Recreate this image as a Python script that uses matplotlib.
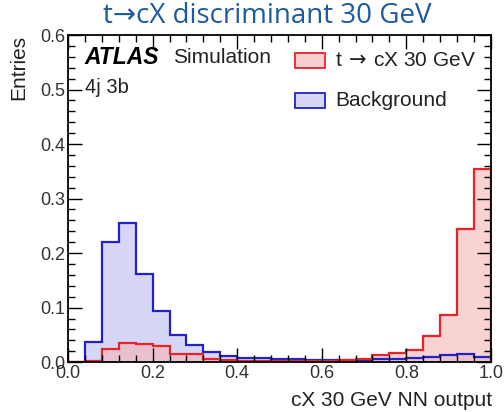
import matplotlib
matplotlib.use('Agg')
import matplotlib.pyplot as plt
from matplotlib.patches import Rectangle
from matplotlib.ticker import MultipleLocator
import numpy as np

# 25 bins of 0.04 on the NN output
bin_edges = np.linspace(0.0, 1.0, 26)

# signal t -> cX 30 GeV (red)
signal = [0.000, 0.002, 0.024, 0.035, 0.033, 0.029, 0.015, 0.015, 0.006, 0.004,
          0.003, 0.003, 0.002, 0.002, 0.002, 0.003, 0.004, 0.006, 0.013, 0.017,
          0.022, 0.048, 0.087, 0.244, 0.355]

# background (blue)
background = [0.000, 0.037, 0.221, 0.256, 0.161, 0.094, 0.050, 0.032, 0.019, 0.012,
              0.008, 0.007, 0.006, 0.005, 0.004, 0.004, 0.004, 0.004, 0.005, 0.005,
              0.008, 0.010, 0.013, 0.015, 0.009]

plt.rcParams['font.family'] = ['Liberation Sans', 'DejaVu Sans']

fig = plt.figure(figsize=(5.04, 4.12), dpi=100)
ax = fig.add_axes([0.135, 0.121, 0.839, 0.794])

red = '#e8232a'
blue = '#2222c8'
red_fill = '#f9cfcf'
blue_fill = '#d6d6f6'

ax.stairs(background, bin_edges, fill=True, color=blue_fill)
ax.stairs(signal, bin_edges, fill=True, color='#f6b4b4', alpha=0.6)
ax.stairs(background, bin_edges, color=blue, lw=1.6)
ax.stairs(signal, bin_edges, color=red, lw=1.6)

ax.set_xlim(0, 1)
ax.set_ylim(0, 0.6)
ax.xaxis.set_major_locator(MultipleLocator(0.2))
ax.xaxis.set_minor_locator(MultipleLocator(0.04))
ax.yaxis.set_major_locator(MultipleLocator(0.1))
ax.yaxis.set_minor_locator(MultipleLocator(0.02))
ax.tick_params(which='both', direction='in', top=True, right=True,
               labelsize=13, labelcolor='#333333')
ax.tick_params(which='major', length=10, width=1)
ax.tick_params(which='minor', length=5, width=1)
ax.tick_params(axis='x', pad=2)
ax.tick_params(axis='y', pad=2)
for s in ax.spines.values():
    s.set_linewidth(1.3)

# axis titles
fig.text(492 / 504, 1 - 400 / 412, 'cX 30 GeV NN output', fontsize=15,
         ha='right', va='center', color='#222222')
fig.text(19 / 504, 1 - 35 / 412, 'Entries', fontsize=15, rotation=90,
         ha='center', va='top', color='#222222')

# ATLAS label
ax.text(0.040, 0.930, 'ATLAS', transform=ax.transAxes, fontsize=16.5,
        fontweight='bold', style='italic', va='center')
ax.text(0.248, 0.930, 'Simulation', transform=ax.transAxes, fontsize=15,
        va='center', color='#222222')
ax.text(0.040, 0.839, '4j 3b', transform=ax.transAxes, fontsize=14.5,
        va='center', color='#222222')

# legend drawn by hand
labels = [r't$\,\rightarrow\,$cX 30 GeV', 'Background']
edges = [red, blue]
fills = [red_fill, blue_fill]
box_y = [0.899, 0.777]
for lab, ec, fc, y in zip(labels, edges, fills, box_y):
    ax.add_patch(Rectangle((0.537, y), 0.071, 0.046, transform=ax.transAxes,
                           facecolor=fc, edgecolor=ec, lw=1.3))
    ax.text(0.631, y + 0.023, lab, transform=ax.transAxes, fontsize=15,
            va='center', color='#222222')

fig.text(0.531, 0.961, 't→cX discriminant 30 GeV', color='#1d5a9e',
         fontsize=20, family=['Open Sans', 'DejaVu Sans'], ha='center', va='center')

fig.savefig('out.png', dpi=100, facecolor='white')
